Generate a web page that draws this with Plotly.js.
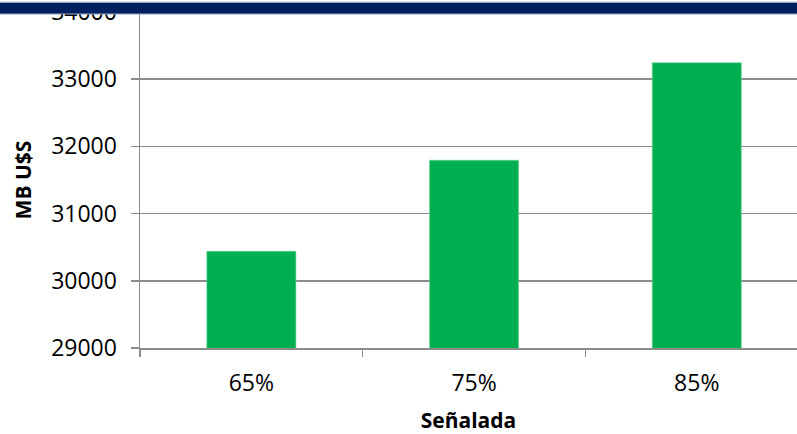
<!DOCTYPE html>
<html>
<head>
<meta charset="utf-8">
<script src="https://cdn.plot.ly/plotly-3.0.1.min.js"></script>
<style>html,body{margin:0;padding:0;background:#fff;}#chart{width:797px;height:434px;}</style>
</head>
<body>
<div id="chart"></div>
<script>
const categories = ["65%", "75%", "85%"];
const values = [30440, 31795, 33245];
const yTicks = [29000, 30000, 31000, 32000, 33000, 34000];
const xTitle = "Señalada";
const yTitle = "MB U$S";

const trace = {
  type: "bar",
  x: categories,
  y: values,
  width: 0.4,
  marker: { color: "#00B050", line: { color: "#6fd59a", width: 0.6 } },
  hoverinfo: "x+y"
};

const layout = {
  width: 797,
  height: 434,
  margin: { l: 140, r: 0, t: 12, b: 86 },
  paper_bgcolor: "#ffffff",
  plot_bgcolor: "#ffffff",
  showlegend: false,
  font: { family: "Open Sans, sans-serif", color: "#000000", size: 23 },
  xaxis: {
    type: "category",
    range: [-0.5, 2.45],
    showline: true,
    linecolor: "#8c8c8c",
    linewidth: 1.5,
    showgrid: false,
    tickson: "boundaries",
    ticks: "outside",
    ticklen: 7,
    tickcolor: "#8c8c8c",
    tickwidth: 1.5,
    ticklabelstandoff: 14,
    tickfont: { size: 23, color: "#000" },
    title: { text: xTitle, font: { size: 21, weight: "bold", color: "#000" }, standoff: 22 }
  },
  yaxis: {
    range: [29000, 34000.5],
    tickmode: "array",
    tickvals: yTicks,
    ticktext: yTicks.map(String),
    ticklabeloverflow: "allow",
    showline: true,
    linecolor: "#8c8c8c",
    linewidth: 1.5,
    showgrid: true,
    gridcolor: "#8c8c8c",
    gridwidth: 1.5,
    zeroline: false,
    ticks: "outside",
    ticklen: 8,
    tickcolor: "#8c8c8c",
    tickwidth: 1.5,
    ticklabelstandoff: 9,
    tickfont: { size: 23, color: "#000" },
    title: { text: yTitle, font: { size: 21, weight: "bold", color: "#000" }, standoff: 14 }
  },
  shapes: [
    {
      type: "rect", xref: "paper", yref: "paper", layer: "above",
      x0: -0.3, x1: 1.1, y0: 1 - 2/336, y1: 1 + 9.7/336,
      fillcolor: "#002060",
      line: { color: "#8fa3c4", width: 1.2 }
    }
  ]
};

Plotly.newPlot("chart", [trace], layout, { displayModeBar: false, staticPlot: true });
</script>
</body>
</html>
